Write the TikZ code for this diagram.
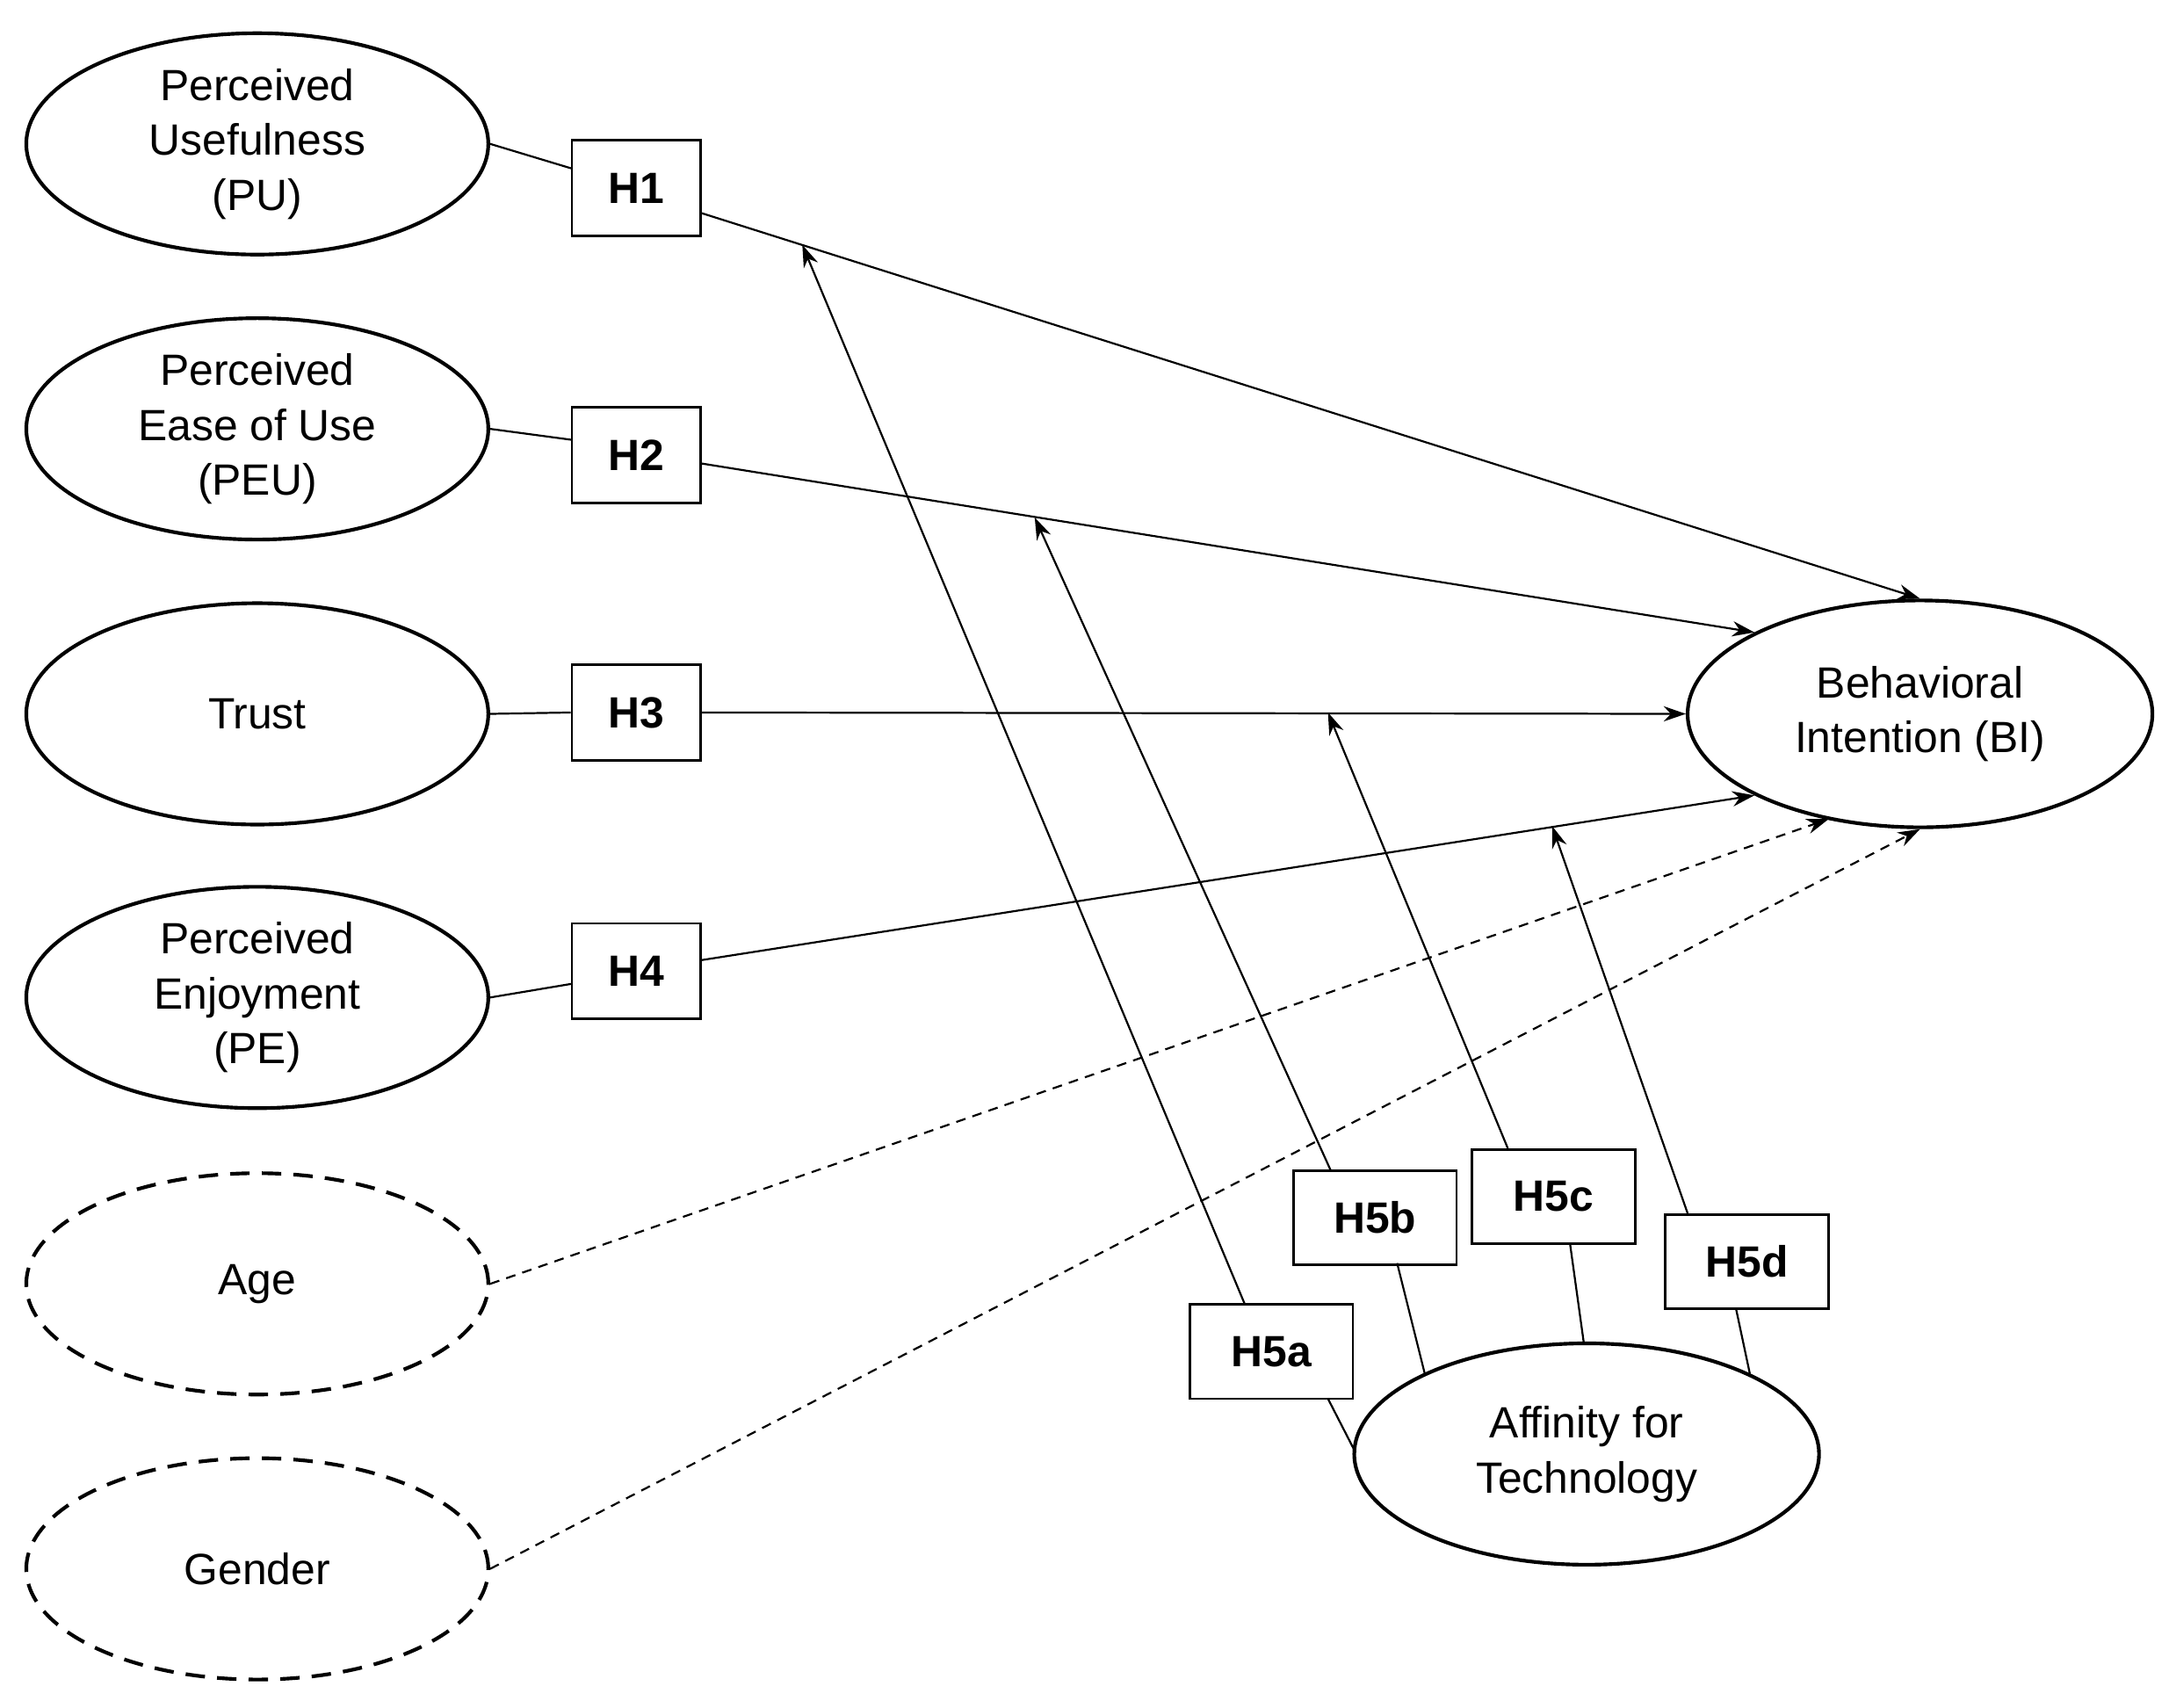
\documentclass[tikz,border=0pt]{standalone}
\usepackage{fontspec}
\setmainfont{Liberation Sans}
\usetikzlibrary{arrows.meta,shapes.geometric}
\begin{document}
\begin{tikzpicture}[x=0.1mm,y=-0.1mm,
  font=\fontsize{9}{11.3}\selectfont,
  ell/.style={draw,line width=0.75pt,ellipse,minimum width=33.4mm,minimum height=16mm,align=center,inner sep=0pt},
  dell/.style={ell,dash pattern=on 4pt off 2.5pt},
  hb/.style={draw,line width=0.5pt,minimum width=9.3mm,minimum height=6.9mm,font=\fontsize{9}{11}\selectfont\bfseries,inner sep=0pt},
  hw/.style={hb,minimum width=11.8mm,minimum height=6.8mm},
  ln/.style={line width=0.4pt},
  ar/.style={ln,-{Stealth[length=1.6mm,width=1.1mm]}},
  dar/.style={ar,dash pattern=on 2pt off 1.5pt}]
\useasboundingbox (0,0) rectangle (1568,1234);
\node[ell] (pu) at (186,104) {Perceived\\Usefulness\\(PU)};
\node[ell] (peu) at (186,310) {Perceived\\Ease of Use\\(PEU)};
\node[ell] (tr) at (186,516) {Trust};
\node[ell] (pe) at (186,721) {Perceived\\Enjoyment\\(PE)};
\node[dell] (age) at (186,928) {Age};
\node[dell] (gen) at (186,1134) {Gender};
\node[ell,minimum width=33.6mm,minimum height=16.4mm] (bi) at (1388,516) {Behavioral\\Intention (BI)};
\node[ell,minimum width=33.6mm] (af) at (1147,1051) {Affinity for\\Technology};
\node[hb] (h1) at (460,136) {H1};
\node[hb] (h2) at (460,329) {H2};
\node[hb] (h3) at (460,515) {H3};
\node[hb] (h4) at (460,702) {H4};
\node[hw] (h5a) at (919,977) {H5a};
\node[hw] (h5b) at (994,880) {H5b};
\node[hw] (h5c) at (1123,865) {H5c};
\node[hw] (h5d) at (1263,912) {H5d};
\coordinate (pa) at (580,177);
\coordinate (pb) at (748,374);
\coordinate (pc) at (960,515);
\coordinate (pd) at (1122,597);
\draw[ln] (pu.east) -- (414,122);
\draw[ar] (507,154) -- (bi.north);
\draw[ln] (peu.east) -- (414,318);
\draw[ar] (507,335) -- (bi.north west);
\draw[ln] (tr.east) -- (h3.west);
\draw[ar] (h3.east) -- (bi.west);
\draw[ln] (pe.east) -- (414,711);
\draw[ar] (507,694) -- (bi.south west);
\draw[dar] (age.east) -- (1322,592);
\draw[dar] (gen.east) -- (bi.south);
\draw[ln] (980,1050) -- (960,1011);
\draw[ar] (900,943) -- (pa);
\draw[ln] (1030,993) -- (1010,913);
\draw[ar] (962,846) -- (pb);
\draw[ln] (1145,971) -- (1135,899);
\draw[ar] (1090,830) -- (pc);
\draw[ln] (1265,993) -- (1255,946);
\draw[ar] (1220,877) -- (pd);
\end{tikzpicture}
\end{document}
